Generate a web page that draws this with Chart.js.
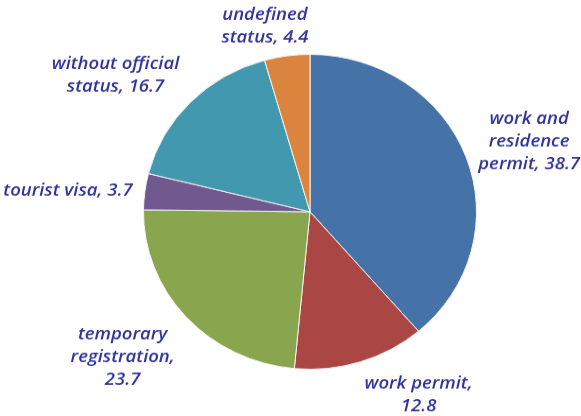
<!DOCTYPE html>
<html lang="en">
<head>
<meta charset="UTF-8">
<title>Status breakdown</title>
<script src="https://cdn.jsdelivr.net/npm/chart.js"></script>
<style>
    html, body { margin: 0; padding: 0; background: #fff; overflow: hidden; }
    #wrap { width: 581px; height: 440px; transform: scaleY(0.9455); transform-origin: 0 0; }
</style>
</head>
<body>
<div id="wrap"><canvas id="statusChart" width="581" height="440"></canvas></div>

<script>
    // Slice names (split into lines; {v} is replaced by the value)
    const categories = [
        ['work and', 'residence', 'permit, {v}'],
        ['work permit,', '{v}'],
        ['temporary', 'registration,', '{v}'],
        ['tourist visa, {v}'],
        ['without official', 'status, {v}'],
        ['undefined', 'status, {v}']
    ];
    const shares = [38.7, 12.8, 23.7, 3.7, 16.7, 4.4];
    const sliceColors = ['#4572a7', '#aa4643', '#89a54e', '#71588f', '#4198af', '#db843d'];

    // label distance (in radii) and angle nudge (degrees) from each slice's middle
    const labelDist = [1.39, 1.335, 1.455, 1.46, 1.455, 1.21];
    const labelNudge = [1.6, -11.6, 2.6, -2.1, -7.5, -5];

    const outsideLabels = {
        id: 'outsideLabels',
        afterDatasetsDraw(chart) {
            const ctx = chart.ctx;
            const arcs = chart.getDatasetMeta(0).data;
            ctx.save();
            ctx.fillStyle = '#31339a';
            ctx.font = 'italic 600 18.5px "Open Sans"';
            ctx.textAlign = 'center';
            ctx.textBaseline = 'middle';
            arcs.forEach((arc, i) => {
                const mid = (arc.startAngle + arc.endAngle) / 2 + labelNudge[i] * Math.PI / 180;
                const r = arc.outerRadius * labelDist[i];
                const cx = arc.x + Math.cos(mid) * r;
                const cy = arc.y + Math.sin(mid) * r;
                const lines = categories[i].map(s => s.replace('{v}', shares[i]));
                const lh = 24;
                lines.forEach((line, j) => {
                    ctx.fillText(line, cx, cy + (j - (lines.length - 1) / 2) * lh);
                });
            });
            ctx.restore();
        }
    };

    new Chart(document.getElementById('statusChart'), {
        type: 'pie',
        data: {
            labels: categories.map(c => c.join(' ').replace('{v}', '').trim()),
            datasets: [{
                data: shares,
                backgroundColor: sliceColors,
                borderColor: '#f4f4f4',
                borderWidth: 1
            }]
        },
        options: {
            responsive: false,
            animation: false,
            layout: { padding: { left: 143, right: 104, top: 57, bottom: 49 } },
            plugins: {
                legend: { display: false },
                tooltip: { enabled: false }
            }
        },
        plugins: [outsideLabels]
    });
</script>
</body>
</html>
